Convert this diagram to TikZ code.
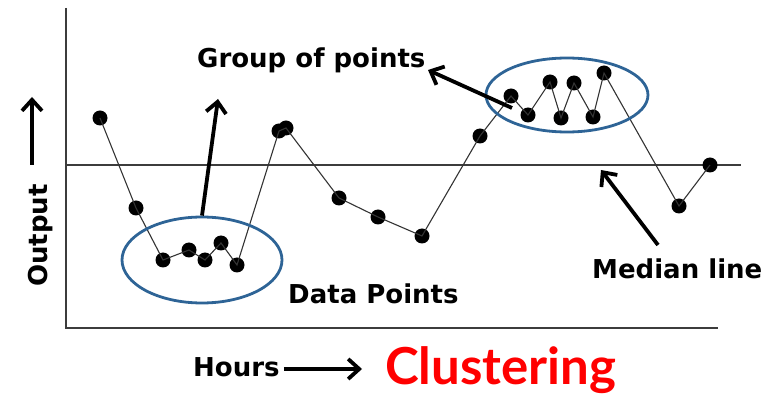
\documentclass[tikz,border=0pt]{standalone}
\usepackage{fontspec}
\setmainfont{DejaVu Sans}
\newfontfamily\latofont{Lato}
\usetikzlibrary{shapes.geometric,arrows.meta}
\definecolor{ellblue}{RGB}{46,100,150}
\definecolor{axisgray}{RGB}{60,60,60}
\tikzset{
  dot/.style={circle,fill=black,inner sep=0pt,minimum width=15pt,minimum height=14pt},
  dataline/.style={line width=1.1pt,color=black!80},
  axisline/.style={line width=1.6pt,color=axisgray},
  ring/.style={ellipse,draw=ellblue,line width=2.8pt,inner sep=0pt},
  bigarrow/.style={line width=3.8pt,-{Straight Barb[length=11pt,width=20pt]}},
  lbl/.style={font=\bfseries\fontsize{26}{30}\selectfont,inner sep=0pt,anchor=base west},
}
\begin{document}
\begin{tikzpicture}[x=1pt,y=-1pt]
\useasboundingbox (0,0) rectangle (769,395);
% axes
\coordinate (ytop) at (66,8);
\coordinate (orig) at (66,328);
\coordinate (xend) at (718,328);
\coordinate (mstart) at (66,165);
\coordinate (mend) at (741,165);
\draw[axisline] (ytop) -- (orig) -- (xend);
\draw[axisline] (mstart) -- (mend);
% data points
\node[dot] (p1) at (100,118) {};
\node[dot] (p2) at (136,208) {};
\node[dot] (p3) at (163,260) {};
\node[dot] (p4) at (189,250) {};
\node[dot] (p5) at (205,260) {};
\node[dot] (p6) at (221,243) {};
\node[dot] (p7) at (237,265) {};
\node[dot] (p8a) at (279,131) {};
\node[dot] (p8b) at (286,128) {};
\node[dot] (p9) at (339,198) {};
\node[dot] (p10) at (378,217) {};
\node[dot] (p11) at (422,236) {};
\node[dot] (p12) at (480,136) {};
\node[dot] (p13) at (511,96) {};
\node[dot] (p14) at (528,115) {};
\node[dot] (p15) at (550,82) {};
\node[dot] (p16) at (561,118) {};
\node[dot] (p17) at (574,83) {};
\node[dot] (p18) at (593,117) {};
\node[dot] (p19) at (604,73) {};
\node[dot] (p20) at (679,206) {};
\node[dot] (p21) at (710,165) {};
\draw[dataline] (p1.center) -- (p2.center) -- (p3.center) -- (p4.center) -- (p5.center) -- (p6.center) -- (p7.center) -- (p8a.center) -- (p8b.center) -- (p9.center) -- (p10.center) -- (p11.center) -- (p12.center) -- (p13.center) -- (p14.center) -- (p15.center) -- (p16.center) -- (p17.center) -- (p18.center) -- (p19.center) -- (p20.center) -- (p21.center);
% clusters
\node[ring,minimum width=160pt,minimum height=86pt] (e1) at (202,260) {};
\node[ring,minimum width=162pt,minimum height=74pt] (e2) at (567,95) {};
% labels
\node[lbl] (grp) at (197,68) {Group of points};
\node[lbl] (dp) at (288,304) {Data Points};
\node[lbl] (ml) at (592,279) {Median line};
\node[lbl] (hrs) at (193,377) {Hours};
\node[lbl,rotate=90] (out) at (47,287) {Output};
\node[font=\latofont\bfseries\fontsize{51}{56}\selectfont,text=red,inner sep=0pt,anchor=base west] (clu) at (385,385) {Clustering};
% arrows
\coordinate (a1tip) at (218,99);
\coordinate (a2start) at (512,108);
\coordinate (a2tip) at (428,70);
\coordinate (a3start) at (658,245);
\coordinate (a3tip) at (601,170);
\coordinate (outs) at (32,165);
\coordinate (outt) at (32,97);
\coordinate (hrst) at (362,369);
\draw[bigarrow] (e1.north) -- (a1tip);
\draw[bigarrow] (a2start) -- (a2tip);
\draw[bigarrow] (a3start) -- (a3tip);
\draw[bigarrow] (outs) -- (outt);
\draw[bigarrow] (hrs.base east) ++(4,-8) coordinate (hrss) -- (hrst);
\end{tikzpicture}
\end{document}
